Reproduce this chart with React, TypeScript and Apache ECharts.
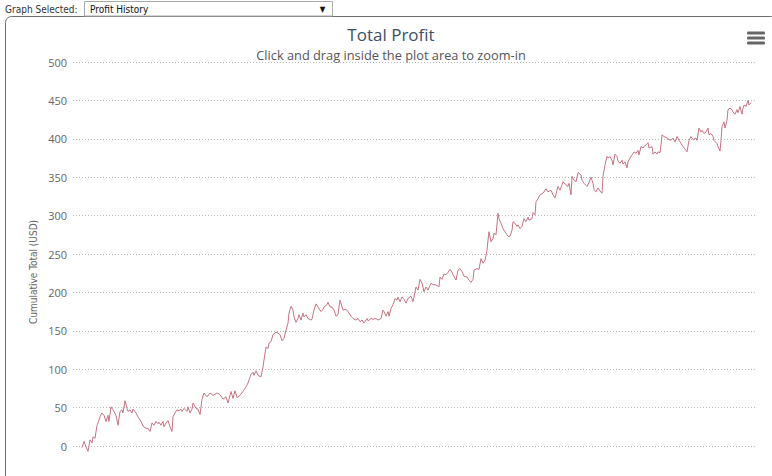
import React, { useEffect, useRef } from "react";
import * as echarts from "echarts";

const tradeDay = [
  0, 2, 4, 6, 8, 10, 11, 13, 15, 16,
  18, 20, 22, 24, 26, 27, 29, 31, 34, 36,
  38, 40, 41, 43, 45, 46, 48, 50, 51, 54,
  56, 59, 61, 64, 66, 68, 70, 72, 74, 76,
  77, 79, 81, 82, 84, 86, 88, 90, 91, 93,
  95, 97, 99, 100, 102, 105, 106, 108, 110, 111,
  114, 116, 118, 120, 122, 125, 128, 131, 135, 138,
  141, 144, 146, 149, 151, 153, 155, 158, 161, 164,
  166, 167, 169, 171, 172, 174, 176, 179, 181, 182,
  184, 186, 187, 189, 191, 194, 196, 198, 200, 202,
  204, 206, 207, 209, 211, 212, 214, 216, 217, 219,
  221, 222, 224, 226, 229, 230, 232, 234, 236, 239,
  241, 242, 245, 246, 248, 250, 252, 254, 256, 258,
  260, 261, 264, 266, 269, 271, 274, 276, 278, 280,
  282, 285, 286, 289, 291, 294, 296, 299, 301, 302,
  304, 306, 307, 309, 311, 313, 315, 316, 318, 320,
  322, 324, 326, 329, 331, 332, 334, 336, 338, 340,
  342, 344, 346, 349, 351, 353, 355, 357, 358, 360,
  362, 364, 366, 368, 370, 371, 374, 376, 378, 380,
  382, 385, 387, 389, 391, 392, 395, 397, 399, 401,
  403, 405, 406, 407, 409, 411, 412, 414, 416, 417,
  419, 421, 424, 426, 428, 430, 431, 433, 435, 436,
  438, 440, 442, 444, 446, 447, 450, 451, 453, 454,
  456, 458, 461, 464, 466, 469, 471, 473, 475, 476,
  478, 480, 481, 484, 486, 487, 489, 490, 492, 494,
  496, 499, 500, 502, 505, 507, 509, 511, 512, 514,
  516, 518, 520, 521, 523, 525, 526, 528, 530, 531,
  533, 535, 536, 538, 540, 541, 543, 545, 546, 548,
  550, 552, 554, 556, 557, 559, 561, 562, 564, 566,
  567, 570, 571, 573, 575, 576, 578, 579, 580, 582,
  585, 587, 589, 591, 593, 595, 597, 599, 601, 604,
  605, 607, 609, 611, 614, 615, 617, 619, 620, 622,
  624, 626, 627, 629, 631, 632, 635, 636, 638, 639,
  640, 642, 643, 645, 646, 648, 650, 651, 653, 655,
  656, 658, 660, 661, 662, 664, 666, 667, 669,
];

const cumulativeProfit = [
  -2, 6, -1, -7, 8, 4, 12, 10, 27, 30,
  38, 43, 40, 32, 40, 32, 51, 47, 40, 27,
  45, 47, 43, 59, 49, 45, 47, 43, 48, 43,
  38, 32, 26, 23, 23, 19, 30, 27, 32, 29,
  31, 27, 32, 25, 30, 33, 25, 19, 38, 43,
  47, 46, 48, 45, 49, 45, 51, 43, 48, 56,
  49, 48, 41, 61, 69, 64, 69, 66, 69, 67,
  61, 64, 56, 71, 62, 72, 63, 66, 71, 77,
  82, 86, 93, 96, 92, 98, 92, 90, 103, 112,
  129, 127, 134, 136, 145, 148, 147, 145, 137, 140,
  151, 160, 173, 182, 177, 168, 161, 166, 171, 164,
  173, 168, 171, 166, 164, 165, 177, 185, 181, 175,
  178, 181, 184, 187, 181, 181, 177, 169, 171, 190,
  181, 177, 178, 175, 169, 166, 164, 166, 162, 164,
  160, 166, 163, 166, 165, 166, 164, 166, 177, 175,
  169, 175, 169, 179, 184, 192, 190, 194, 188, 194,
  191, 186, 192, 195, 188, 194, 207, 203, 217, 212,
  201, 207, 203, 212, 210, 210, 209, 207, 220, 217,
  224, 223, 226, 230, 226, 223, 216, 229, 231, 227,
  221, 220, 216, 213, 217, 229, 231, 230, 244, 238,
  242, 255, 268, 279, 266, 270, 277, 275, 303, 296,
  290, 283, 277, 273, 273, 281, 292, 290, 286, 288,
  283, 286, 296, 292, 298, 294, 296, 304, 301, 318,
  322, 327, 329, 335, 331, 333, 327, 323, 333, 338,
  333, 340, 344, 340, 338, 342, 327, 351, 346, 344,
  356, 353, 346, 342, 338, 343, 350, 342, 334, 331,
  336, 332, 329, 351, 366, 377, 375, 377, 372, 366,
  380, 377, 371, 368, 372, 367, 370, 362, 370, 375,
  379, 383, 381, 385, 379, 390, 388, 390, 392, 395,
  388, 390, 380, 383, 380, 383, 382, 392, 405, 403,
  401, 399, 398, 401, 396, 403, 398, 394, 390, 385,
  383, 398, 403, 399, 401, 398, 414, 409, 411, 407,
  409, 414, 405, 407, 403, 398, 394, 390, 384, 398,
  416, 422, 414, 424, 438, 440, 438, 435, 432, 438,
  434, 442, 432, 440, 444, 442, 450, 444, 447,
];

const yMin = 0;
const yMax = 500;
const yStep = 50;

const chartTitle = "Total Profit";
const chartSubtitle = "Click and drag inside the plot area to zoom-in";
const yAxisTitle = "Cumulative Total (USD)";
const selectLabel = "Graph Selected:";
const selectValue = "Profit History";

const FONT = '"Open Sans", "DejaVu Sans", sans-serif';
const SMALL_FONT = '"DejaVu Sans Condensed", "DejaVu Sans", sans-serif';

export default function App() {
  const ref = useRef<HTMLDivElement>(null);

  useEffect(() => {
    if (!ref.current) return;
    const chart = echarts.init(ref.current, undefined, { renderer: "svg" });
    const data = tradeDay.map((d, i) => [d, cumulativeProfit[i]]);

    chart.setOption({
      animation: false,
      backgroundColor: "#ffffff",
      grid: { left: 73, right: 16, top: 62, bottom: 30, containLabel: false },
      xAxis: { type: "value", min: -9, max: 674, show: false },
      yAxis: {
        type: "value",
        min: yMin,
        max: yMax,
        interval: yStep,
        axisLine: { show: false },
        axisTick: { show: false },
        axisLabel: { color: "#666666", fontSize: 11, margin: 6, fontFamily: FONT },
        splitLine: { lineStyle: { color: "#b8b8b8", type: [1, 2], width: 1 } },
      },
      series: [
        {
          type: "line",
          data,
          symbol: "none",
          showSymbol: false,
          clip: false,
          silent: true,
          lineStyle: { color: "#c47584", width: 1 },
        },
      ],
      graphic: [
        {
          type: "rect",
          shape: { x: 5.5, y: 16.5, width: 772, height: 600, r: 6 },
          style: { fill: "none", stroke: "#707070", lineWidth: 1 },
          silent: true,
          z: -1,
        },
        {
          type: "text",
          x: 5,
          y: 9,
          style: {
            text: selectLabel,
            fill: "#333333",
            font: `10px ${SMALL_FONT}`,
            textAlign: "left",
            textVerticalAlign: "middle",
          },
        },
        {
          type: "rect",
          shape: { x: 84.5, y: 1.5, width: 248, height: 14.5 },
          style: { fill: "#ffffff", stroke: "#a9a9a9", lineWidth: 1 },
        },
        {
          type: "text",
          x: 90,
          y: 9,
          style: {
            text: selectValue,
            fill: "#111111",
            font: `10px ${SMALL_FONT}`,
            textAlign: "left",
            textVerticalAlign: "middle",
          },
        },
        {
          type: "text",
          x: 322.5,
          y: 9,
          style: {
            text: "▼",
            fill: "#111111",
            font: `8px ${SMALL_FONT}`,
            textAlign: "center",
            textVerticalAlign: "middle",
          },
        },
        {
          type: "text",
          x: 391,
          y: 34.5,
          style: {
            text: chartTitle,
            fill: "#3d4f66",
            font: `17px ${FONT}`,
            textAlign: "center",
            textVerticalAlign: "middle",
          },
        },
        {
          type: "text",
          x: 391,
          y: 54.5,
          style: {
            text: chartSubtitle,
            fill: "#555555",
            font: `12.8px ${FONT}`,
            textAlign: "center",
            textVerticalAlign: "middle",
          },
        },
        {
          type: "text",
          x: 33,
          y: 272,
          rotation: Math.PI / 2,
          style: {
            text: yAxisTitle,
            fill: "#666666",
            font: `10px ${SMALL_FONT}`,
            textAlign: "center",
            textVerticalAlign: "middle",
          },
        },
        {
          type: "group",
          children: [0, 5, 10].map((dy) => ({
            type: "rect",
            shape: { x: 747, y: 31.5 + dy, width: 18, height: 3, r: 1 },
            style: { fill: "#666666" },
          })),
        },
      ],
    });

    return () => chart.dispose();
  }, []);

  return (
    <div
      ref={ref}
      style={{ position: "absolute", left: 0, top: 0, width: 772, height: 476 }}
    />
  );
}
